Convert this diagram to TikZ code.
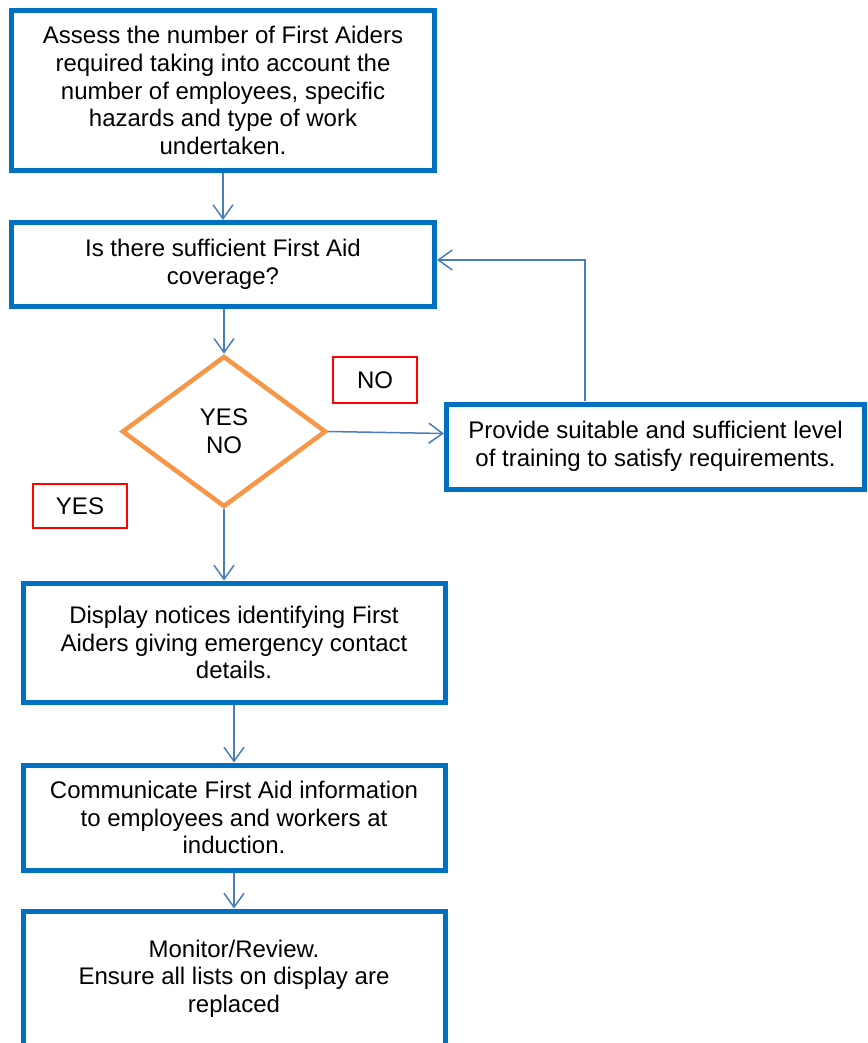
\documentclass[tikz,border=0pt]{standalone}
\usepackage{fontspec}
\setmainfont{Liberation Sans}
\usetikzlibrary{arrows.meta,shapes.geometric,calc}
\definecolor{boxblue}{HTML}{0070C0}
\definecolor{arrowblue}{HTML}{4A7EBB}
\definecolor{diaorange}{HTML}{F79646}
\definecolor{labred}{HTML}{FF0000}
\tikzset{
  txt/.style={font=\fontsize{24}{27.6}\selectfont, align=center},
  stepbox/.style={txt, draw=boxblue, line width=5pt, inner sep=0pt, rectangle},
  decision/.style={txt, draw=diaorange, line width=4.5pt, diamond, inner sep=0pt, aspect=1.35},
  lab/.style={txt, draw=labred, line width=1.5pt, inner sep=0pt},
  conn/.style={draw=arrowblue, line width=1.5pt, -{Straight Barb[length=14pt,width=20pt,line width=1.5pt]}}
}
\begin{document}
\begin{tikzpicture}[x=1pt,y=-1pt]
\useasboundingbox (0,0) rectangle (867,1043);
\node[stepbox, minimum width=423pt, minimum height=160.5pt] (b1) at (223,90.5)
  {Assess the number of First Aiders\\required taking into account the\\number of employees, specific\\hazards and type of work\\undertaken.};
\node[stepbox, minimum width=423pt, minimum height=84pt] (b2) at (223,264.5)
  {Is there sufficient First Aid\\coverage?};
\node[decision, minimum width=204pt, minimum height=151pt] (dia) at (224,431.5)
  {YES\\NO};
\node[lab, minimum width=84pt, minimum height=46pt] (lno) at (375,380) {NO};
\node[lab, minimum width=94pt, minimum height=44pt] (lyes) at (80,506) {YES};
\node[stepbox, minimum width=418pt, minimum height=85pt] (b3) at (655.5,446.5)
  {Provide suitable and sufficient level\\of training to satisfy requirements.};
\node[stepbox, minimum width=422pt, minimum height=119pt] (b4) at (234,642.5)
  {Display notices identifying First\\Aiders giving emergency contact\\details.};
\node[stepbox, minimum width=422pt, minimum height=105pt] (b5) at (234,817.5)
  {Communicate First Aid information\\to employees and workers at\\induction.};
\node[stepbox, minimum width=422pt, minimum height=135pt] (b6) at (234,978.5)
  {Monitor/Review.\\Ensure all lists on display are\\replaced};
\coordinate (fb) at (585,401);
\coordinate (fbturn) at (585,260);
\draw[conn] (b1.south) -- (b2.north);
\draw[conn] (dia.north |- b2.south) -- (dia.north);
\draw[conn] (dia.east) -- ([yshift=-2pt]b3.west |- dia.east);
\draw[conn] (fb) -- (fbturn) -- (b2.east |- fbturn);
\draw[conn] (dia.south) -- (dia.south |- b4.north);
\draw[conn] (b4.south) -- (b5.north);
\draw[conn] (b5.south) -- (b6.north);
\end{tikzpicture}
\end{document}
